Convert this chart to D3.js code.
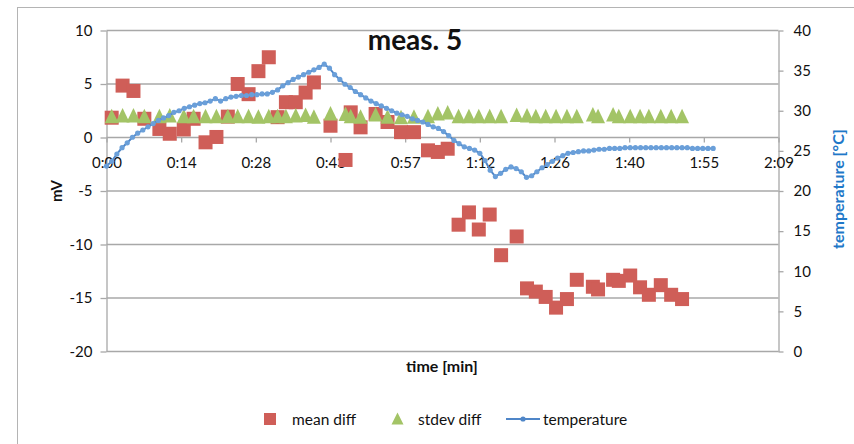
<!DOCTYPE html>
<html>
<head>
<meta charset="utf-8">
<script src="https://cdn.jsdelivr.net/npm/d3@7"></script>
<style>
  body { margin: 0; background: #fff; }
  text { font-family: Lato, "Open Sans", sans-serif; fill: #111; }
</style>
</head>
<body>
<script>
// sample times (minutes) for the mean / stdev measurements
const sampleMin = [1.0, 3.1, 5.2, 7.3, 10.2, 12.2, 14.9, 16.8, 19.1, 21.2, 23.4, 25.3, 27.4, 29.3, 31.3,
  33.0, 34.6, 36.5, 38.4, 40.0, 43.2, 46.1, 47.1, 49.0, 51.9, 54.2, 56.8, 59.3, 62.0, 63.9, 65.8,
  67.9, 69.9, 71.8, 73.9, 76.1, 79.1, 81.1, 82.8, 84.7, 86.7, 88.8, 90.7, 93.8, 94.8, 97.7, 98.8,
  101.0, 102.9, 104.6, 106.9, 108.9, 111.0];

// mean diff [mV]
const meanDiff = [1.85, 4.85, 4.35, 1.75, 0.8, 0.35, 0.75, 1.75, -0.45, 0.05, 1.95, 5.0, 4.05, 6.2, 7.5,
  1.9, 3.3, 3.3, 4.2, 5.15, 1.1, -2.1, 2.35, 0.95, 2.2, 1.45, 0.5, 0.5, -1.2, -1.35, -1.05,
  -8.15, -7.0, -8.6, -7.2, -11.0, -9.25, -14.1, -14.4, -14.9, -15.9, -15.1, -13.3, -13.95, -14.2, -13.3, -13.4,
  -12.9, -14.0, -14.7, -13.8, -14.7, -15.1];

// stdev diff [mV]
const stdevDiff = [1.95, 2.0, 2.0, 1.95, 1.95, 2.0, 1.95, 1.95, 1.95, 1.95, 1.95, 1.95, 1.95, 1.9, 1.95,
  1.95, 1.95, 2.0, 2.05, 1.9, 2.2, 2.15, 1.95, 1.9, 2.1, 1.9, 1.85, 1.9, 1.95, 2.2, 2.3,
  1.95, 1.95, 1.95, 1.95, 1.95, 2.05, 2.0, 1.95, 1.95, 1.95, 1.95, 1.95, 2.1, 1.95, 2.1, 1.95,
  1.95, 1.95, 1.95, 1.95, 1.95, 1.95];

// temperature [°C], one reading per minute from 0:00
const tempC = [23.1, 23.7, 24.6, 25.4, 26.0, 26.7, 27.2, 27.6, 28.0, 28.4,
  28.8, 29.1, 29.4, 29.8, 30.0, 30.3, 30.5, 30.7, 30.9, 31.0,
  31.2, 31.5, 31.2, 31.5, 31.7, 31.8, 31.9, 31.9, 32.0, 32.0,
  32.1, 32.1, 32.3, 32.6, 33.1, 33.5, 33.9, 34.2, 34.5, 34.8,
  35.1, 35.4, 35.8, 35.3, 34.5, 33.9, 33.3, 32.9, 32.4, 32.0,
  31.6, 31.2, 30.9, 30.6, 30.3, 30.0, 29.7, 29.5, 29.3, 29.0,
  28.8, 28.6, 28.3, 28.0, 27.8, 27.4, 26.9, 26.3, 25.9, 25.5,
  25.3, 25.1, 24.7, 23.8, 22.6, 21.8, 22.2, 22.7, 23.0, 22.8,
  22.4, 21.7, 21.9, 22.4, 22.9, 23.3, 23.7, 24.1, 24.4, 24.7,
  24.8, 24.9, 25.0, 25.0, 25.1, 25.2, 25.2, 25.3, 25.3, 25.3,
  25.4, 25.4, 25.4, 25.4, 25.4, 25.4, 25.4, 25.4, 25.4, 25.4,
  25.4, 25.4, 25.4, 25.3, 25.3, 25.3, 25.3, 25.3];

// axis ticks
const timeTickLabels = ['0:00', '0:14', '0:28', '0:43', '0:57', '1:12', '1:26', '1:40', '1:55', '2:09'];
const mvTicks = [-20, -15, -10, -5, 0, 5, 10];
const tempTicks = [0, 5, 10, 15, 20, 25, 30, 35, 40];

const width = 854;
const height = 444;
const tickStep = 14.4; // 0.01 day in minutes

const svg = d3.select('body')
  .append('svg')
  .attr('width', width)
  .attr('height', height);

// chart frame
svg.append('rect')
  .attr('x', 17.5).attr('y', 7.5)
  .attr('width', 900).attr('height', 500)
  .attr('fill', 'none')
  .attr('stroke', '#b4b4b4');

// scales
const x = d3.scaleLinear().domain([0, tickStep * 9]).range([106.5, 778.5]);
const yL = d3.scaleLinear().domain([-20, 10]).range([351.5, 30.5]);
const yR = d3.scaleLinear().domain([0, 40]).range([351.5, 30.5]);

const gridColor = '#a8a8a8';

// horizontal gridlines
svg.append('g')
  .selectAll('line')
  .data(mvTicks)
  .enter()
  .append('line')
  .attr('x1', x.range()[0]).attr('x2', x.range()[1])
  .attr('y1', d => yL(d)).attr('y2', d => yL(d))
  .attr('stroke', gridColor)
  .attr('stroke-width', 1.3);

// left axis (plain hyphen for negatives, like the original)
const leftAxis = svg.append('g')
  .attr('transform', `translate(${x.range()[0]},0)`)
  .call(d3.axisLeft(yL).tickValues(mvTicks).tickFormat(d => String(d))
    .tickSize(6).tickPadding(8).tickSizeOuter(0));

// right axis
const rightAxis = svg.append('g')
  .attr('transform', `translate(${x.range()[1]},0)`)
  .call(d3.axisRight(yR).tickValues(tempTicks).tickSize(5).tickPadding(10).tickSizeOuter(0));

// time axis, crossing at 0 mV
const bottomAxis = svg.append('g')
  .attr('transform', `translate(0,${yL(0)})`)
  .call(d3.axisBottom(x)
    .tickValues(timeTickLabels.map((d, i) => i * tickStep))
    .tickFormat((d, i) => timeTickLabels[i])
    .tickSize(5).tickPadding(15).tickSizeOuter(0));

[leftAxis, rightAxis, bottomAxis].forEach(g => {
  g.selectAll('path').attr('stroke', gridColor).attr('stroke-width', 1.3);
  g.selectAll('line').attr('stroke', gridColor).attr('stroke-width', 1.3);
  g.selectAll('text').attr('font-size', 15).attr('fill', '#111')
    .style('font-family', 'Lato, sans-serif');
});
bottomAxis.select('.domain').remove();

// mean diff squares
const sq = 14;
svg.append('g')
  .selectAll('rect')
  .data(sampleMin)
  .enter()
  .append('rect')
  .attr('x', (d, i) => x(d) - sq / 2)
  .attr('y', (d, i) => yL(meanDiff[i]) - sq / 2)
  .attr('width', sq).attr('height', sq)
  .attr('fill', '#cf5e58');

// stdev diff triangles
const triangle = (cx, cy) => `M${cx},${cy - 8}L${cx + 7},${cy + 6.5}L${cx - 7},${cy + 6.5}Z`;
svg.append('g')
  .selectAll('path')
  .data(sampleMin)
  .enter()
  .append('path')
  .attr('d', (d, i) => triangle(x(d), yL(stdevDiff[i])))
  .attr('fill', '#a3c466');

// temperature line
const tempData = tempC.map((v, i) => ({ t: i, v: v }));
const line = d3.line().x(d => x(d.t)).y(d => yR(d.v));
svg.append('path')
  .datum(tempData)
  .attr('d', line)
  .attr('fill', 'none')
  .attr('stroke', '#4f86c8')
  .attr('stroke-width', 2);

svg.append('g')
  .selectAll('circle')
  .data(tempData)
  .enter()
  .append('circle')
  .attr('cx', d => x(d.t))
  .attr('cy', d => yR(d.v))
  .attr('r', 2.6)
  .attr('fill', '#6a9fd9');

// titles
svg.append('text')
  .attr('x', 415).attr('y', 50)
  .attr('text-anchor', 'middle')
  .attr('font-size', 28).attr('font-weight', 'bold')
  .text('meas. 5');

svg.append('text')
  .attr('x', 442).attr('y', 372)
  .attr('text-anchor', 'middle')
  .attr('font-size', 16).attr('font-weight', 'bold')
  .text('time [min]');

svg.append('text')
  .attr('transform', 'translate(62,191) rotate(-90)')
  .attr('text-anchor', 'middle')
  .attr('font-size', 15).attr('font-weight', 'bold')
  .text('mV');

svg.append('text')
  .attr('transform', 'translate(844,189) rotate(-90)')
  .attr('text-anchor', 'middle')
  .attr('font-size', 16).attr('font-weight', 'bold')
  .style('fill', '#1f78c8')
  .text('temperature [°C]');

// legend
const legend = svg.append('g').attr('transform', 'translate(0,419)');
legend.append('rect')
  .attr('x', 264).attr('y', -6).attr('width', 12).attr('height', 12)
  .attr('fill', '#cf5e58');
legend.append('text').attr('x', 292).attr('y', 5.5).attr('font-size', 15.5).text('mean diff');

legend.append('path')
  .attr('d', 'M397.5,-6.5L403.5,5.5L391.5,5.5Z')
  .attr('fill', '#a3c466');
legend.append('text').attr('x', 418).attr('y', 5.5).attr('font-size', 15.5).text('stdev diff');

legend.append('line')
  .attr('x1', 506).attr('x2', 540).attr('y1', 0).attr('y2', 0)
  .attr('stroke', '#4f86c8').attr('stroke-width', 2);
legend.append('circle').attr('cx', 523).attr('cy', 0).attr('r', 2.6).attr('fill', '#4f86c8');
legend.append('text').attr('x', 543).attr('y', 5.5).attr('font-size', 15.5).text('temperature');
</script>
</body>
</html>
